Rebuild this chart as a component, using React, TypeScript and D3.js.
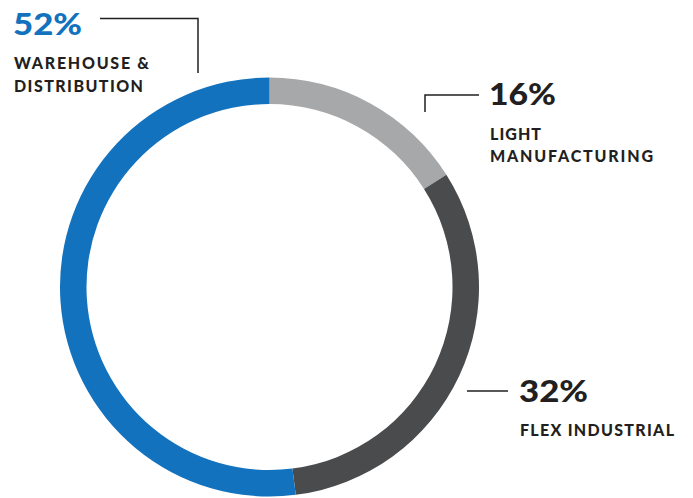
import React from "react";
import * as d3 from "d3";

const categories = ["LIGHT MANUFACTURING", "FLEX INDUSTRIAL", "WAREHOUSE & DISTRIBUTION"];
const values = [16, 32, 52];
const colors = ["#A7A8AA", "#4A4B4D", "#1272BE"];
const pctLabels = ["16%", "32%", "52%"];

const W = 693;
const H = 498;

export default function App() {
  const cx = 269.5;
  const cy = 287;
  const outerR = 209.5;
  const innerR = 183;
  const pie = d3.pie<number>().sort(null).value((d) => d)(values);
  const arc = d3.arc<d3.PieArcDatum<number>>().innerRadius(innerR).outerRadius(outerR);
  const font = "Lato, 'DejaVu Sans', sans-serif";
  const dark = "#231F20";
  const pctStyle = { fontFamily: font, fontWeight: 900, fontSize: 30 } as const;
  const labStyle = { fontFamily: font, fontWeight: 900, fontSize: 16 } as const;

  return (
    <svg width={W} height={H} style={{ position: "absolute", left: 0, top: 0, background: "#fff" }}>
      <g transform={`translate(${cx},${cy})`}>
        {pie.map((p, i) => (
          <path key={categories[i]} d={arc(p) || ""} fill={colors[i]} />
        ))}
      </g>
      {/* leader lines */}
      <polyline points="100,18.5 198,18.5 198,73" fill="none" stroke={dark} strokeWidth={1.5} />
      <polyline points="425,112 425,95 479,95" fill="none" stroke={dark} strokeWidth={1.5} />
      <line x1={467} y1={391} x2={508} y2={391} stroke={dark} strokeWidth={1.5} />

      {/* 52% */}
      <text x={13} y={35} fill={colors[2]} style={pctStyle} textLength={69} lengthAdjust="spacingAndGlyphs">{pctLabels[2]}</text>
      <text x={14} y={69} fill={dark} style={labStyle} textLength={135} lengthAdjust="spacing">WAREHOUSE &amp;</text>
      <text x={14} y={92} fill={dark} style={labStyle} textLength={129} lengthAdjust="spacing">DISTRIBUTION</text>

      {/* 16% */}
      <text x={489} y={105} fill={dark} style={pctStyle} textLength={67} lengthAdjust="spacingAndGlyphs">{pctLabels[0]}</text>
      <text x={490} y={140} fill={dark} style={labStyle} textLength={51} lengthAdjust="spacing">LIGHT</text>
      <text x={490} y={162} fill={dark} style={labStyle} textLength={163} lengthAdjust="spacing">MANUFACTURING</text>

      {/* 32% */}
      <text x={519} y={402} fill={dark} style={pctStyle} textLength={69} lengthAdjust="spacingAndGlyphs">{pctLabels[1]}</text>
      <text x={520} y={436} fill={dark} style={labStyle} textLength={154} lengthAdjust="spacing">FLEX INDUSTRIAL</text>
    </svg>
  );
}
